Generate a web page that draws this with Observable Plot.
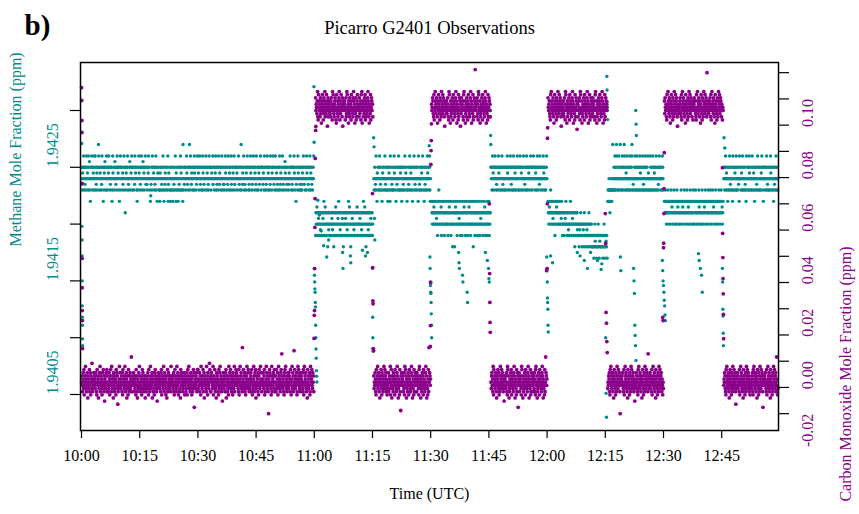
<!DOCTYPE html>
<html><head><meta charset="utf-8">
<script src="https://cdn.jsdelivr.net/npm/d3@7"></script>
<script src="https://cdn.jsdelivr.net/npm/@observablehq/plot@0.6"></script>
<style>html,body{margin:0;padding:0;background:#fff}</style>
</head><body><div id="chart"></div>
<script>
// ---------- DATA ----------
// Segment boundaries, minutes after 10:00 UTC
const segStart = [0.0, 60.3, 75.3, 90.2, 105.5, 120.2, 135.6, 150.2, 165.5];
const segEnd   = [59.9, 75.1, 90.0, 105.4, 120.0, 135.5, 150.0, 165.4, 179.5];
const segCOHigh = [false, true, false, true, false, true, false, true, false];

// Methane: each char (base 36) = steps of 0.00005 ppm above 1.9410
const ch4Seg1 =
 "usqtuswuqsrusuqwsutsqwusvqsosuswuqsutsqw" + "suwqsrutsqusywsuqtsusqrwusuosqtuvsuqswsu" +
 "qsutwsusqrsuusoqwtsusqsvusrsuqwsutsuqosu" + "wsuqsustrsqwusumsqtusuwsqrssuvqsutuwsqsu" +
 "suqsrwutsusqoqsuswtusqruswsuqsvsutqsuwsr" + "usrqsutwsusqsoprsuqwsustusqrsuwqsuostsuq" +
 "sqotsuqsrusqwsuoqsrtsuqsusqwortsuqsoqsus" + "qsouqsrsuqwsotsqusqosurqsuwqtsusqoyqsurs" +
 "usqsuwtsrsqusuysqwusrtsuqsusqwtusuqsrsuw" + "sutqsuwsrusqsuqwtusrsqsuswusqtsurqswusus" +
 "uqstsuwrsusqsutwsqursusqwusrtsuqsuwsqsur" + "srqsuwtsuqsurswsqutsusqwrsusqtuswsrqusus" +
 "utsqsuwsrusqsuyqsurtsuwsqsrusqtuswsusqur" + "qsuwtsusqrsuwsusqtsurwsqsusqutsrsuwsqusu" +
 "surtsqwsusqursuwsqtusuqsrwsusqtsuwsursqs" + "wusqtsursqusuwqsrtsusqwsursqusvtsuqsrsus" +
 "sqrtsuwsusqursqusuwtsqsuorsusqwtsusqrsuq" + "usqrtsuwsursqsusqwtusursqsuwsqtusrsqsusw";
const ch4Seg2 =
 "imkmnikmilkmikmjmkiimkmlkmoikmnkmiikmkgmkjmik" + "kmiikmlkjmkigkmikmnikmikmlkoimkmjkimikmlikgmk" +
 "mkiklmimkjimkokmnimkgkmiilkmkmjkiimkmikmnikmk" + "kmiklmikmjkimkmoikmnkimgkmikmijmkikmiklmkimik";
const ch4Seg3 =
 "sqsuqrswsqotsusqsuwqsrusqsoqtsusuqswsrqusqsuo" + "qsutsqowsusqrsqusqswtsuqsosursqsuwsqsuqtusqos" +
 "usqrsuqswsutsqsoqsusrqswusqtsuqsosusqwsursqsu" + "sqsusowsqrsusqsutqswsusqosursqsuqswtsusqsuqos";
const ch4Seg4 =
 "omkmokmnmokmkomlkmiokmqmkomkmnikomkmokmiomkmk" + "kmokmikmonmkmkiomkmgkmokmgkmnomkmikmokmlkmoik" +
 "mkmiokmkmnokmimkomkmikmonkmkmiokmkmokgmkmoikm" + "kmomkimkmokmikmlkomkmikmokmnkimkmoikmkmkoimkm";
const ch4Seg5 =
 "usuqswutsqusuwsusqrsuusqwtsusuqsusqwusruqsusq" + "susqusuwtsqsusuqswusruqsusqwusuqtsusqsuwsusqu" +
 "quswusqtsusuqswsusrqsusqwusuqsutsusqswusuqsus" + "uwsusqsutsuqswusqsusrwsusqsusuqswutsqsusqsuws";
const ch4Seg6 =
 "omkmnokmqmokmomlkmokmimokmnomkmokmkmomkmlokmi" + "kmkmikmlkokmkimkmjkikmkomkikmlkmikmkgkmikmkmj" +
 "ikikgkjikmikigkikjkgmikikgikjkigikmigkikigkig" + "gigiegikhgigeigigkgieihgigcgigiegigkigeighgie";
const ch4Seg7 =
 "oqoqsoqmqoqsqoqsyqsqusqwsqusywsqsusqwsusyqsus" + "qswusqsuywsqsutsqwsuqsusqswusqsuwysqsrsqsuwsq" +
 "susqwsusqsuqswutsqsusqwsurqsuqswusqsusqwstsqs" + "qswusqsusqwsusqtsuqsuwsqsusqrsuwsusqsusqswusq";
const ch4Seg8 =
 "omoqmokmomoqmkomomkoqmonmkomoqmokmomkoqmonokm" + "mokmomqkomonmkmoqmomkomoqmkonmomkoqmomkmomoqk" +
 "kmomoqmkomomkmoqnmokmomkoqmomkmonmoqkmomokmoq" + "momkoqmomkmoqmonmkomoqmkmomokmoqmomkmoqmonkmo";
const ch4Seg9 =
 "susqsuwsqtsusoqsusqwsursqsusqowsusqsutsqswusq" + "qsusrsowsusqsutsqwsqsusuqsrsqowsusqsusqwtusqs" +
 "sqsuwsqsutsqosusqsursqwsusqsuqsusqtswsusqosus" + "usqsusqwsursqsuqsusqwtsusqsusqosursqsuwsqsusq";

// Carbon monoxide: each char (base 36) = steps of 0.0012 ppm above the segment floor
const coSeg1 =
 "hgjeikfldhgjmifehkgcjihflegkdjhinfegihkj" + "gifhkjedlhgicjfhkmegjhidfkglhejbigfhkjle" +
 "jhegfkidhjlgemhfijckghejfidlhkgjaefhimgk" + "ifhgjekdlhigfjmhegkicjfhdlgejhkfigpehjgi" +
 "hkgejfihdlgjecifhkgmjhefgidjlhkfegihjcgf" + "egihjkfdlhgeimjfhgkcijehfdkglijhefbgikhj" +
 "jfhgiekldhjgfimhekgjidfhcjlegkhifjhgemij" + "higfjkedhlgjifemhgkjdihefjclgkihjefghikd" +
 "gjhefikdhlgjmifhegkjidhfejlgk9hifgjhkeil" + "lfighkejhdmgifjhlegkcihjgfemhidkjgfhnlie" +
 "ejkhigfmdhjgliefhckgjihedlfgkmihjegfbhik" + "hfjgeiklcghjefidmhgkjlfheigjdkhfimegjhlg" +
 "kigjhfeldhimgjkfhesgilhjfkegdhjimfgklhie" + "fghjkielhdgfimjehkglcfjhigekdjlhfgmihkeg" +
 "igkhfjldhegimkhfjge7ihlkjgfdhmejigkhflje" + "hjelgfikdhmgjfiehklgqjhfigedkjlhmgfiehjk" +
 "gfkjhielgdhimfkjegrhlifjhgkdeimhljgfkieh" + "jighkfeldhmgjikhfegclhjfigkdemjhilgfkhje";
const coSeg2 =
 "kgihfjmedlhgjiekfhcgjlihdfkgjmehiflgjbhkeigjf" + "fhejkgidmhlgfeijkhgdclhfjeigkmhdjfglihekbgjih" +
 "ijgdhkefmlhgicjfekhgidljhfgekmjhicgfkdhejligh" + "hekgfijdlhmcgjeihfkgldjeihfgkmjhecigfldhkjgie";
const coSeg3 =
 "jfhgkiedlhgjmfikhegcjihlfdkgjehimfgljhkeigdfh" + "gkehjifmdhlgcjfiekhgjdlhifegkmjhcfigdleh8jkgi" +
 "hijegfkdmhlgjcifehkgdjlihfegkmhjcgfidlehkjgie" + "ekhgjifdlmhgjcifehkgjdlhifegkmhjcgfdileshkjgi";
const coSeg4 =
 "ighkjfeldhgmjifkhecgjlihfdkgjemhiflgkjhebigjf" + "jhfgkiedmlhgcjefihkgdljhifegkmjhcigfdlehkjgbi" +
 "fkgihjedlmhgjcfiekhgdjlihfegkmhjcigfldehkjgti" + "hgjekifdmlhgjcefihkgdljhifegkmjhcifgdlehkjgie";
const coSeg5 =
 "hfjkgiemdlhgjfikhecgjilhfkdgejmhiflgjkhegibfj" + "ighfjkedmlhgjcefihkgldjhifegkmjhcgifdlehkj9gi" +
 "kehgijfdmlhgcjeifhkgdljhifegkmhjcigfldehkjgie" + "gjhfkiedlmhgjcefikhgdljihfegkmjhcifgdlehpkjgi";
const coSeg6 =
 "khgijfedlhmgjifkhecgljihfdkgejmhiflgjkhebigfj" + "hjfegkidmlhgcjeifhkgdljhifegkmjhcigfdlehkjgai" +
 "iegjhkfdmlhgjcfeihkgdljhifegkmhjcigfldehkjgie" + "fkhijgedlmhgjcefihkgdjlihfegkmjhcifgdlehkjgih";
const coSeg7 =
 "fhgjikedlhmgjfikhegcjlihfdkgejmhiflgjkhe7igjh" + "ijhkgfeldhgmjikfhegcljhifdkgejmhlifgjkheigbfh" +
 "hgkjfiedlhmgjfkihegjcilhfdgkejmhiflgkjheqigfj" + "gkfhjieldhgmijfkhegclijhfdgkejmhilfgjkheigdhf";
const coSeg8 =
 "jfkhgiedlhgmjifkhecgjlihfdkgejmhiflgjkhebigfh" + "hgjkifeldhmgjkifhegcljihfdgkejmhilfgkjheigdhj" +
 "ikhgjfedlhgmjfikhegjcilhfdkgejmhiflgjkhesigfj" + "fhjgkieldhmgijfkhegclijhfdgkejmhilfgkjheigdhg";
const coSeg9 =
 "gihkjfedlhmgjifkhecgjlihfdkgejmhiflgjkheaigfj" + "kjfhgieldhgmjkifhegcljihfdgkejmhilfgkjheigdhf" +
 "hfgjikedlhmgjfikhegjcilhfdkgejmhiflgjkhe9igjh" + "jgikhfeldhgmijfkhegclijhfdgkejmhilfgjkhepigdf";

// Switching transients and excursions (minutes after 10:00, ppm)
const ch4ExtraTime = [0.02,0.05,0.08,0.1,0.12,0.15,0.18,0.2,0.22,0.25,0.28,0.3,
 59.9,59.95,60.0,60.05,60.1,60.15,60.2,60.25,60.3,60.35,60.4,60.45,60.5,60.55,60.6,60.65,60.9,61.3,61.8,62.4,63.2,63.7,
 67.3,67.4,69.3,69.4,72.4,73.2,73.7,
 75.0,75.05,75.1,75.15,75.2,75.3,75.4,75.5,75.6,
 89.6,89.7,89.8,89.85,89.9,89.95,90.0,90.05,90.1,90.15,90.2,90.25,
 97.2,97.3,97.4,98.2,98.3,99.4,99.5,
 104.1,104.6,104.9,105.0,105.1,105.4,105.45,105.5,
 119.9,120.0,120.05,120.1,120.15,120.2,120.25,120.3,120.9,121.4,
 127.8,128.5,129.6,130.4,131.2,133.0,134.1,
 135.1,135.2,135.3,135.4,135.45,135.5,135.55,135.6,
 138.9,139.0,142.3,142.4,142.5,142.6,142.7,142.8,142.9,142.85,142.95,143.0,
 149.7,149.8,149.9,150.0,150.1,150.2,150.3,150.4,150.5,
 159.0,159.2,159.5,159.8,160.0,
 165.2,165.25,165.3,165.35,165.4,165.45,165.6,165.8];
const ch4ExtraVal = [1.94291,1.94271,1.94235,1.94198,1.94186,1.94172,1.9415,1.94128,1.94118,1.94111,1.94099,1.94093,
 1.94321,1.94272,1.94161,1.94155,1.94149,1.94143,1.9414,1.94131,1.94127,1.94111,1.941,1.9409,1.94082,1.94071,1.94066,1.94061,1.94221,1.94208,1.94194,1.94181,1.94171,1.94186,
 1.94175,1.94161,1.94172,1.94166,1.94177,1.94172,1.94175,
 1.94161,1.94118,1.941,1.9409,1.94088,1.94276,1.94268,1.94205,1.94186,
 1.94269,1.9426,1.94171,1.94161,1.94149,1.94146,1.9414,1.94139,1.94131,1.94121,1.94111,1.941,
 1.94175,1.94166,1.94161,1.94155,1.94149,1.9414,1.94131,
 1.94175,1.94168,1.94161,1.94152,1.94149,1.943,1.94278,1.9427,
 1.94171,1.94161,1.94149,1.94135,1.94131,1.94125,1.94111,1.94105,1.94172,1.94166,
 1.94175,1.94172,1.94168,1.94161,1.94175,1.94168,1.94165,
 1.941,1.94051,1.9403,1.9433,1.94318,1.94308,1.943,1.94292,
 1.94171,1.94159,1.94161,1.9415,1.94139,1.94111,1.94102,1.94093,1.9408,1.943,1.94288,1.94278,
 1.94168,1.94159,1.9415,1.94146,1.9414,1.94133,1.94128,1.9412,1.94115,
 1.94174,1.94168,1.94161,1.94155,1.9414,
 1.94161,1.94149,1.94125,1.94119,1.94104,1.94093,1.94276,1.94267];
const coExtraTime = [0.02,0.05,0.08,0.1,0.13,0.16,0.18,0.2,0.23,0.26,
 59.95,60.0,60.05,60.1,60.15,60.2,60.25,60.35,60.4,
 75.0,75.05,75.1,75.15,75.2,75.3,
 89.9,89.95,90.0,90.05,90.1,90.15,90.2,
 105.1,105.2,105.25,105.3,105.35,
 119.9,120.0,120.05,120.1,120.15,
 135.0,135.1,135.2,135.3,135.4,135.5,
 149.8,149.9,150.0,150.05,150.1,150.15,150.2,
 165.2,165.25,165.3,165.35,165.4,165.45,165.5];
const coExtraVal = [0.1043,0.0994,0.0918,0.0872,0.0678,0.0392,0.028,0.0193,0.0155,0.0048,
 0.0087,0.0175,0.0193,0.0353,0.051,0.062,0.0773,0.088,0.0895,
 0.0639,0.0357,0.023,0.0219,0.0048,0.004,
 0.0056,0.0136,0.030,0.075,0.0803,0.0841,0.0905,
 0.06,0.0334,0.0224,0.0148,0.011,
 0.0345,0.0353,0.06,0.085,0.089,
 0.0563,0.0449,0.0186,0.0145,0.0075,0.0033,
 0.0167,0.0155,0.0433,0.045,0.0563,0.0658,0.0795,
 0.0738,0.0487,0.0395,0.0315,0.0257,0.0178,0.0086];

// Axis ticks and labels
const ch4TickVals = [1.9405, 1.9410, 1.9415, 1.9420, 1.9425, 1.9430];
const ch4LabelVals = [1.9405, 1.9415, 1.9425];
const coTickVals = [-0.02,-0.01,0,0.01,0.02,0.03,0.04,0.05,0.06,0.07,0.08,0.09,0.10,0.11];
const coLabelVals = [-0.02, 0, 0.02, 0.04, 0.06, 0.08, 0.10];
const timeTickMinutes = [0, 15, 30, 45, 60, 75, 90, 105, 120, 135, 150, 165];

// ---------- BUILD ----------
const TEAL = "#008b8b", PURPLE = "#8b008b";
const ch4Seg = [ch4Seg1, ch4Seg2, ch4Seg3, ch4Seg4, ch4Seg5, ch4Seg6, ch4Seg7, ch4Seg8, ch4Seg9];
const coSeg = [coSeg1, coSeg2, coSeg3, coSeg4, coSeg5, coSeg6, coSeg7, coSeg8, coSeg9];
const CH4_BASE = 1.9410, CH4_STEP = 0.00005;
const CO_LOW_BASE = -0.0284, CO_HIGH_BASE = 0.0764, CO_STEP = 0.0012;

const T0 = Date.UTC(2020, 0, 1, 10, 0, 0);
const toDate = m => new Date(T0 + m * 60000);
const decode = s => [...s].map(ch => parseInt(ch, 36));

const M0 = 1.940183, M1 = 1.9434225;   // methane axis range
const C0 = -0.02642, C1 = 0.11388;     // CO axis range
const coToM = c => M0 + (c - C0) / (C1 - C0) * (M1 - M0);

const ch4Points = [], coPoints = [];
segStart.forEach((s, i) => {
  const e = segEnd[i];
  const cv = decode(ch4Seg[i]);
  cv.forEach((d, j) => ch4Points.push({t: toDate(s + (e - s) * (j + 0.5) / cv.length), v: CH4_BASE + d * CH4_STEP}));
  const ov = decode(coSeg[i]);
  const base = segCOHigh[i] ? CO_HIGH_BASE : CO_LOW_BASE;
  ov.forEach((d, j) => coPoints.push({t: toDate(s + (e - s) * (j + 0.5) / ov.length), c: base + d * CO_STEP}));
});
ch4ExtraTime.forEach((t, i) => ch4Points.push({t: toDate(t), v: ch4ExtraVal[i]}));
coExtraTime.forEach((t, i) => coPoints.push({t: toDate(t), c: coExtraVal[i]}));

const xTicks = timeTickMinutes.map(toDate);
const fmtTime = d3.utcFormat("%H:%M");
const FONT = "'Liberation Serif','Times New Roman',Times,serif";

const chart = Plot.plot({
  width: 859, height: 514,
  marginTop: 62, marginBottom: 84, marginLeft: 80, marginRight: 81,
  x: {type: "utc", domain: [toDate(-0.258), toDate(179.64)]},
  y: {domain: [M0, M1]},
  style: {fontFamily: FONT, background: "#fff", color: "#000"},
  marks: [
    Plot.dot(ch4Points, {x: "t", y: "v", r: 1.7, fill: TEAL}),
    Plot.dot(coPoints, {x: "t", y: d => coToM(d.c), r: 1.9, fill: PURPLE}),
    Plot.frame({stroke: "#000", strokeWidth: 1.5}),
    Plot.axisX({ticks: xTicks, tickSize: 8, tickFormat: () => "", label: null, strokeWidth: 1.2}),
    Plot.axisY({anchor: "left", ticks: ch4TickVals, tickSize: 10, tickFormat: () => "", label: null, strokeWidth: 1.2}),
    Plot.axisY({anchor: "right", ticks: coTickVals.map(coToM), tickSize: 10, tickFormat: () => "", label: null, strokeWidth: 1.2}),
    Plot.text(xTicks, {x: d => d, frameAnchor: "bottom", dy: 30, text: d => fmtTime(d), fontSize: 16, fill: "#000"}),
    Plot.text(ch4LabelVals, {y: d => d, frameAnchor: "left", dx: -28, rotate: -90, text: d => d.toFixed(4), fontSize: 16, fill: TEAL}),
    Plot.text(coLabelVals, {y: d => coToM(d), frameAnchor: "right", dx: 29, rotate: -90, text: d => d.toFixed(2), fontSize: 16, fill: PURPLE}),
    Plot.text(["Methane Mole Fraction (ppm)"], {frameAnchor: "left", dx: -65, rotate: -90, text: d => d, fontSize: 16, fill: TEAL}),
    Plot.text(["Carbon Monoxide Mole Fraction (ppm)"], {frameAnchor: "right", dx: 67, rotate: -90, text: d => d, fontSize: 16, fill: PURPLE}),
    Plot.text(["Time (UTC)"], {frameAnchor: "bottom", dy: 68, text: d => d, fontSize: 16, fill: "#000"}),
    Plot.text(["Picarro G2401 Observations"], {frameAnchor: "top", dy: -42, text: d => d, fontSize: 18.5, fill: "#000"}),
    Plot.text(["b)"], {frameAnchor: "top-left", dx: -56, dy: -48, textAnchor: "start", text: d => d, fontSize: 29, fontWeight: "bold", fill: "#000"})
  ]
});
document.getElementById("chart").appendChild(chart);
</script>
</body></html>
